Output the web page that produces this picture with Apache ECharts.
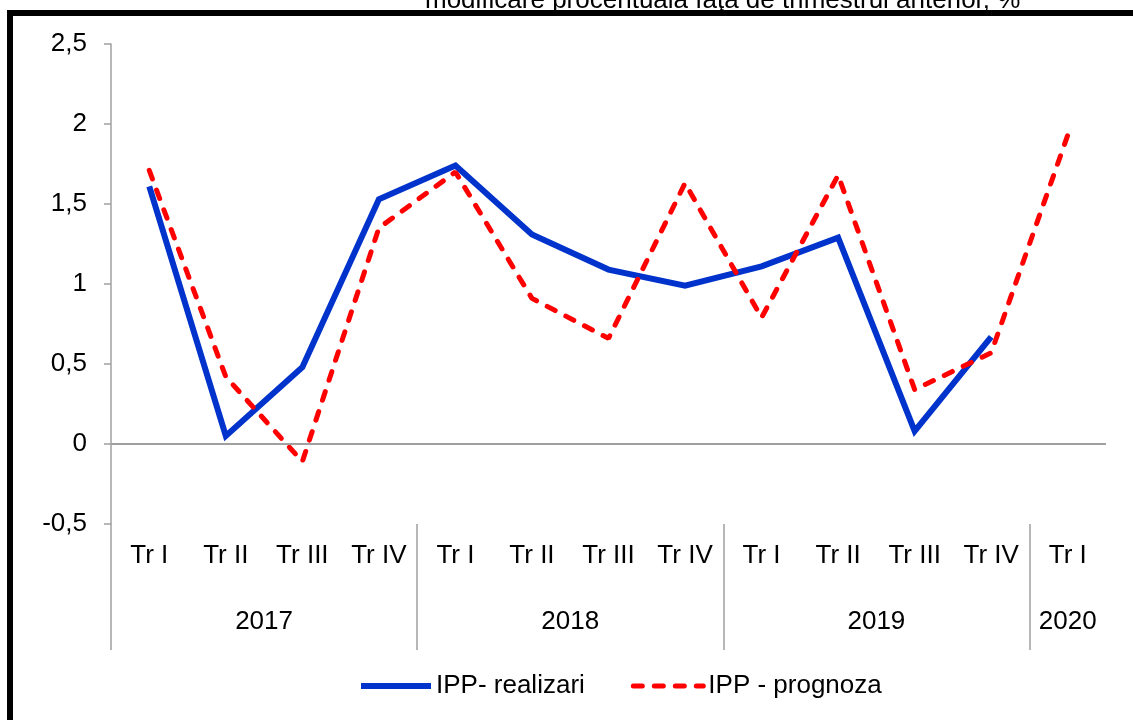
<!DOCTYPE html>
<html>
<head>
<meta charset="utf-8">
<script src="https://cdn.jsdelivr.net/npm/echarts@6/dist/echarts.min.js"></script>
<style>
  html, body { margin: 0; padding: 0; background: #fff; }
  #main { width: 1133px; height: 720px; }
</style>
</head>
<body>
<div id="main"></div>
<script>
// trimestre pe axa X
var quarters = ['Tr I', 'Tr II', 'Tr III', 'Tr IV',
                'Tr I', 'Tr II', 'Tr III', 'Tr IV',
                'Tr I', 'Tr II', 'Tr III', 'Tr IV',
                'Tr I'];
var years = ['2017', '2018', '2019', '2020'];
var quartersPerYear = [4, 4, 4, 1];

// IPP - modificare procentuala fata de trimestrul anterior
var realizari = [1.61, 0.05, 0.48, 1.53, 1.74, 1.31, 1.09, 0.99, 1.11, 1.29, 0.08, 0.67, null];
var prognoza = [1.71, 0.42, -0.11, 1.35, 1.70, 0.91, 0.66, 1.63, 0.79, 1.68, 0.34, 0.57, 1.93];

var yMin = -0.5, yMax = 2.5, yStep = 0.5;

var titleText = 'modificare procentuala faţa de trimestrul anterior, %';
var seriesNames = ['IPP- realizari', 'IPP - prognoza'];

// granitele dintre ani si mijlocul fiecarui an (in unitati de trimestru)
var yearStarts = [];
var yearCenters = [];
var pos = 0;
quartersPerYear.forEach(function (n) {
  yearStarts.push(pos);
  yearCenters.push(pos + n / 2);
  pos += n;
});

var font = 'Liberation Sans, Arial, sans-serif';
var axisGray = '#a0a0a0';
var blueLine = { color: '#0033cc', width: 6, type: 'solid', join: 'miter' };
var redLine = { color: '#ff0000', width: 5, type: [9, 12], cap: 'round' };

var chart = echarts.init(document.getElementById('main'));

var option = {
  animation: false,
  backgroundColor: '#fff',
  textStyle: { fontFamily: font },
  graphic: [
    {
      type: 'text',
      left: 425,
      top: -12,
      style: { text: titleText, font: '26px ' + font, fill: '#000' }
    },
    {
      // rama neagra
      type: 'rect',
      shape: { x: 10, y: 13, width: 1300, height: 900 },
      style: { fill: 'none', stroke: '#000', lineWidth: 6 },
      z: 100
    }
  ],
  legend: {
    left: 358,
    top: 673,
    padding: 0,
    itemWidth: 70,
    itemHeight: 26,
    itemGap: 46,
    itemStyle: { opacity: 0 },
    textStyle: { fontSize: 26, color: '#000', fontFamily: font },
    data: [
      { name: seriesNames[0], lineStyle: blueLine },
      { name: seriesNames[1], lineStyle: redLine }
    ]
  },
  grid: {
    left: 111,
    right: 27,
    top: 44,
    bottom: 196,
    containLabel: false
  },
  xAxis: [
    {
      type: 'category',
      data: quarters,
      position: 'bottom',
      boundaryGap: true,
      axisLine: { show: false, onZero: false },
      axisTick: { show: false },
      axisLabel: { fontSize: 26, color: '#000', margin: 19, interval: 0, fontFamily: font }
    },
    {
      type: 'value',
      min: 0,
      max: quarters.length,
      position: 'bottom',
      axisLine: { show: false, onZero: false },
      splitLine: { show: false },
      axisTick: {
        show: true,
        customValues: yearStarts,
        length: 126,
        lineStyle: { color: axisGray, width: 1.5 }
      },
      axisLabel: {
        customValues: yearCenters,
        fontSize: 26,
        color: '#000',
        margin: 85,
        fontFamily: font,
        formatter: function (v) {
          return years[yearCenters.indexOf(v)];
        }
      }
    }
  ],
  yAxis: {
    type: 'value',
    min: yMin,
    max: yMax,
    interval: yStep,
    axisLine: { show: true, lineStyle: { color: axisGray, width: 1.5 } },
    axisTick: { show: true, length: 7, lineStyle: { color: axisGray, width: 1.5 } },
    splitLine: { show: false },
    axisLabel: {
      fontSize: 26,
      color: '#000',
      margin: 24,
      fontFamily: font,
      formatter: function (v) {
        return String(v).replace('.', ',');
      }
    }
  },
  series: [
    {
      name: seriesNames[0],
      type: 'line',
      data: realizari,
      showSymbol: false,
      symbol: 'none',
      color: '#0033cc',
      lineStyle: blueLine,
      markLine: {
        silent: true,
        symbol: ['none', 'none'],
        label: { show: false },
        lineStyle: { color: axisGray, width: 2, type: 'solid' },
        data: [{ yAxis: 0 }]
      },
      z: 2
    },
    {
      name: seriesNames[1],
      type: 'line',
      data: prognoza,
      showSymbol: false,
      symbol: 'none',
      color: '#ff0000',
      lineStyle: redLine,
      z: 3
    }
  ]
};

chart.setOption(option);
</script>
</body>
</html>
